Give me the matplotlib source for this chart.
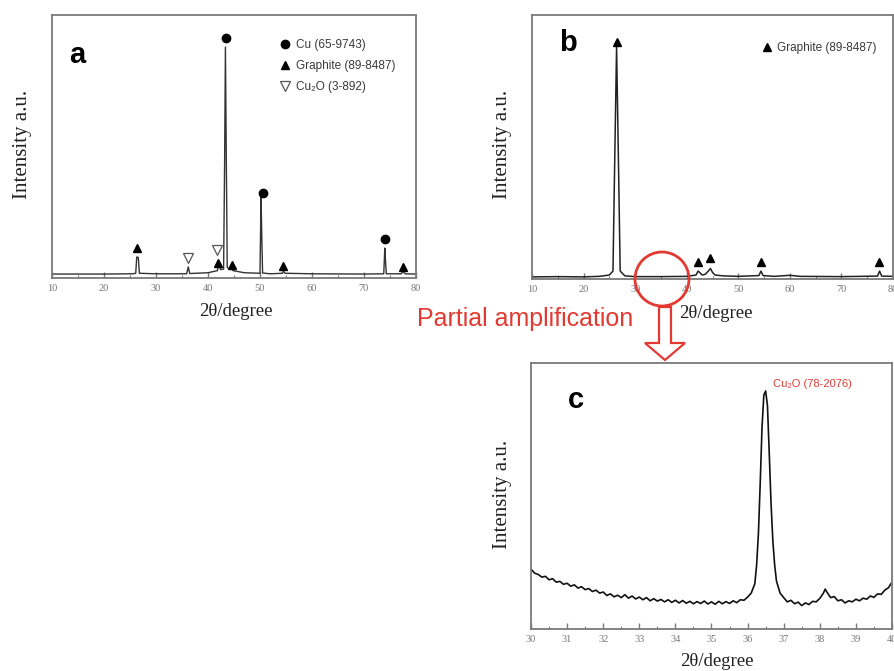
import matplotlib
matplotlib.use("Agg")
import matplotlib.pyplot as plt
from matplotlib.lines import Line2D
from matplotlib.patches import Circle, Polygon

# ---------------- data ----------------
# panel a: Cu / graphite composite
a_theta = [10, 20, 25.5, 26.1, 26.3, 26.6, 26.8, 30, 35.9, 36.2, 36.5, 40, 41.8, 42.1, 42.4,
           43.0, 43.2, 43.35, 43.5, 43.7, 44.3, 44.5, 44.8, 47, 50.0, 50.2, 50.35, 50.5, 52,
           54.3, 54.5, 54.8, 60, 70, 73.8, 74.0, 74.15, 74.3, 77.2, 77.5, 77.9, 80]
a_intensity = [1.5, 1.5, 1.6, 1.8, 8.0, 7.8, 1.8, 1.6, 1.6, 4.2, 1.7, 2.0, 2.8, 6.0, 3.2,
               3.4, 45, 87.8, 50, 4.0, 3.2, 4.2, 2.8, 2.0, 1.8, 30.9, 15, 1.9, 1.6,
               1.8, 2.6, 1.8, 1.6, 1.5, 1.6, 11.4, 6, 1.6, 1.6, 2.6, 1.6, 1.5]
a_cu_theta = [43.4, 50.5, 74.0]
a_cu_mark = [91.3, 32.3, 14.8]
a_gr_theta = [26.4, 41.9, 44.7, 54.4, 77.5]
a_gr_mark = [11.4, 5.7, 4.9, 4.6, 4.2]
a_cu2o_theta = [36.2, 41.8]
a_cu2o_mark = [7.6, 10.6]

# panel b: graphite
b_theta = [10, 15, 20, 23, 25, 25.7, 26.0, 26.4, 26.8, 27.1, 28, 30, 35, 40,
           41.8, 42.2, 42.5, 43.0, 43.6, 44.2, 44.6, 45.0, 45.5, 47, 50,
           54.0, 54.4, 54.8, 57, 60, 62, 70, 77.0, 77.4, 77.8, 80]
b_intensity = [0.8, 0.9, 0.8, 1.0, 1.5, 3, 40, 87.9, 40, 3, 1.2, 0.9, 0.9, 1.0,
               1.5, 3.0, 2.5, 1.5, 1.8, 3.0, 4.0, 2.5, 1.5, 1.2, 1.0,
               1.3, 3.0, 1.3, 1.0, 1.4, 1.0, 0.9, 1.1, 3.0, 1.1, 1.0]
b_gr_theta = [26.4, 42.2, 44.6, 54.4, 77.3]
b_gr_mark = [89.8, 6.4, 8.0, 6.4, 6.4]

# panel c: partial amplification 30-40 deg
c_theta = [30.0, 30.1, 30.2, 30.3, 30.4, 30.5, 30.6, 30.7, 30.8, 30.9,
           31.0, 31.1, 31.2, 31.3, 31.4, 31.5, 31.6, 31.7, 31.8, 31.9,
           32.0, 32.1, 32.2, 32.3, 32.4, 32.5, 32.6, 32.7, 32.8, 32.9,
           33.0, 33.1, 33.2, 33.3, 33.4, 33.5, 33.6, 33.7, 33.8, 33.9,
           34.0, 34.1, 34.2, 34.3, 34.4, 34.5, 34.6, 34.7, 34.8, 34.9,
           35.0, 35.1, 35.2, 35.3, 35.4, 35.5, 35.6, 35.7, 35.8, 35.9,
           36.0, 36.1, 36.2, 36.25, 36.3, 36.35, 36.4, 36.45, 36.5, 36.55,
           36.6, 36.65, 36.7, 36.75, 36.8, 36.9, 37.0, 37.1, 37.2, 37.3,
           37.4, 37.5, 37.6, 37.7, 37.8, 37.9, 38.0, 38.1, 38.15, 38.2,
           38.3, 38.4, 38.5, 38.6, 38.7, 38.8, 38.9, 39.0, 39.1, 39.2,
           39.3, 39.4, 39.5, 39.6, 39.7, 39.8, 39.9, 40.0]
c_intensity = [22.5, 21.0, 20.5, 19.5, 19.8, 18.5, 18.9, 17.6, 17.9, 16.8,
               17.2, 16.1, 16.6, 15.4, 15.9, 14.8, 15.2, 14.1, 14.6, 13.5,
               13.9, 12.6, 13.2, 12.1, 12.7, 11.8, 12.9, 11.6, 12.4, 11.3,
               12.0, 11.0, 11.8, 10.6, 11.4, 10.5, 11.1, 10.2, 11.0, 10.0,
               10.8, 9.8, 10.7, 9.7, 10.4, 9.5, 10.3, 9.6, 10.5, 9.4,
               10.2, 9.3, 10.4, 9.5, 10.3, 9.6, 10.6, 9.9, 11.0, 10.8,
               12.0, 13.5, 17, 24, 36, 55, 76, 88, 89.5, 84,
               66, 47, 33, 24, 18, 13.5, 11.8, 10.2, 10.8, 9.5,
               10.1, 8.8, 9.8, 9.2, 10.4, 10.2, 11.5, 13.5, 15, 13.8,
               11.8, 12.2, 10.6, 11.0, 9.8, 10.6, 10.2, 11.2, 10.6, 11.6,
               11.2, 12.4, 11.9, 13.2, 13.0, 14.6, 15.5, 17.6]

ab_ticks = [10, 20, 30, 40, 50, 60, 70, 80]
c_ticks = [30, 31, 32, 33, 34, 35, 36, 37, 38, 39, 40]

# ---------------- figure ----------------
W, H = 895, 671
fig = plt.figure(figsize=(W / 100, H / 100), dpi=100)
fig.patch.set_facecolor("white")


def px_axes(left, top, right, bottom):
    return fig.add_axes([left / W, 1 - bottom / H, (right - left) / W, (bottom - top) / H])


SERIF = ["Liberation Serif", "DejaVu Serif"]
SANS = ["Liberation Sans", "DejaVu Sans"]
SPINE = "#7a7a7a"


def style(ax, ticks, minor_step, xlim):
    ax.set_xlim(*xlim)
    ax.set_ylim(0, 100)
    ax.set_yticks([])
    ax.set_xticks(ticks)
    ax.set_xticks([t + minor_step for t in ticks[:-1]], minor=True)
    ax.set_xticklabels([str(t) for t in ticks], fontsize=7.5, color="#777777", family=SERIF)
    ax.tick_params(axis="x", which="major", direction="in", length=4, width=1.0,
                   color=SPINE, pad=4)
    ax.tick_params(axis="x", which="minor", direction="in", length=2.5, width=0.8,
                   color=SPINE)
    for s in ax.spines.values():
        s.set_color(SPINE)
        s.set_linewidth(1.3)


def labels(ax, xl, yl):
    ax.set_xlabel("2θ/degree", fontsize=13.5, family=SERIF, color="#222222")
    ax.set_ylabel("Intensity a.u.", fontsize=15, family=SERIF, color="#222222")
    ax.xaxis.set_label_coords(*xl)
    ax.yaxis.set_label_coords(*yl)
    ax.xaxis.label.set_va("center")
    ax.yaxis.label.set_va("center")


# ---- panel a ----
ax_a = px_axes(52, 15, 416, 278)
style(ax_a, ab_ticks, 5, (10, 80))
ax_a.plot(a_theta, a_intensity, color="#333333", lw=1.0)
ax_a.plot(a_cu_theta, a_cu_mark, "o", color="black", ms=6, ls="none")
ax_a.plot(a_gr_theta, a_gr_mark, "^", color="black", ms=6, ls="none")
ax_a.plot(a_cu2o_theta, a_cu2o_mark, "v", mfc="white", mec="#555555", mew=0.9, ms=7, ls="none")
labels(ax_a, (0.506, -0.129), (-0.082, 0.506))
ax_a.text(0.069, 0.848, "a", transform=ax_a.transAxes, fontsize=21, fontweight="bold",
          family=SANS, ha="center", va="center")
handles_a = [
    Line2D([], [], marker="o", color="black", ls="none", ms=6),
    Line2D([], [], marker="^", color="black", ls="none", ms=6),
    Line2D([], [], marker="v", mfc="white", mec="#555555", mew=0.9, ls="none", ms=7),
]
leg_a = ax_a.legend(handles_a, ["Cu (65-9743)", "Graphite (89-8487)", "Cu₂O (3-892)"],
                    loc="upper left", bbox_to_anchor=(0.612, 0.93), frameon=False,
                    handlelength=0.8, handletextpad=0.5, labelspacing=0.75, borderpad=0,
                    prop={"family": SANS, "size": 8.5})
for t in leg_a.get_texts():
    t.set_color("#3a3a3a")

# ---- panel b ----
ax_b = px_axes(532, 15, 893, 279)
style(ax_b, ab_ticks, 5, (10, 80))
ax_b.plot(b_theta, b_intensity, color="#222222", lw=1.1)
ax_b.plot(b_gr_theta, b_gr_mark, "^", color="black", ms=6, ls="none")
labels(ax_b, (0.51, -0.129), (-0.083, 0.508))
ax_b.text(0.10, 0.894, "b", transform=ax_b.transAxes, fontsize=21, fontweight="bold",
          family=SANS, ha="center", va="center")
leg_b = ax_b.legend([Line2D([], [], marker="^", color="black", ls="none", ms=5.5)],
                    ["Graphite (89-8487)"], loc="upper left", bbox_to_anchor=(0.622, 0.92),
                    frameon=False, handlelength=0.8, handletextpad=0.4, borderpad=0,
                    prop={"family": SANS, "size": 8.5})
for t in leg_b.get_texts():
    t.set_color("#3a3a3a")

# ---- panel c ----
ax_c = px_axes(531, 363, 892, 629)
style(ax_c, c_ticks, 0.5, (30, 40))
ax_c.plot(c_theta, c_intensity, color="#111111", lw=1.2)
labels(ax_c, (0.515, -0.124), (-0.080, 0.504))
ax_c.text(0.125, 0.861, "c", transform=ax_c.transAxes, fontsize=21, fontweight="bold",
          family=SANS, ha="center", va="center")
ax_c.text(36.7, 92, "Cu₂O (78-2076)", color="#e33b33", fontsize=8, family=SANS,
          ha="left", va="center")

# ---- overlay annotations (pixel coordinates) ----
ov = fig.add_axes([0, 0, 1, 1], zorder=10)
ov.set_xlim(0, W)
ov.set_ylim(H, 0)
ov.axis("off")
ov.patch.set_alpha(0)
RED = "#e23a32"
ov.add_patch(Circle((662, 279), 27, fill=False, edgecolor=RED, lw=2))
ov.add_patch(Polygon([(659, 307), (671, 307), (671, 343), (685, 343), (665, 360),
                      (645, 343), (659, 343)], closed=True, facecolor="white",
                     edgecolor=RED, lw=1.6))
ov.text(417, 319, "Partial amplification", color=RED, fontsize=18, family=SANS,
        ha="left", va="center")

fig.savefig("out.png", dpi=100)
